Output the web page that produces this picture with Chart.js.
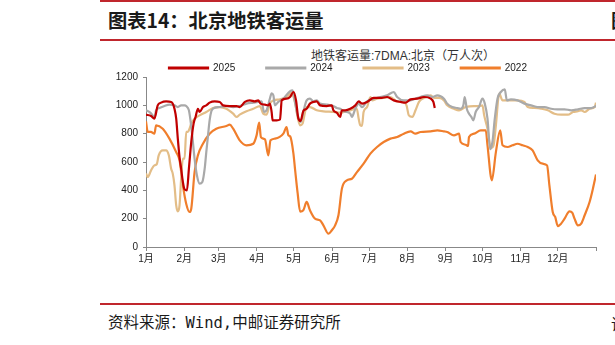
<!DOCTYPE html>
<html>
<head>
<meta charset="utf-8">
<script src="https://cdn.jsdelivr.net/npm/chart.js@4.4.1/dist/chart.umd.min.js"></script>
<style>
html,body{margin:0;padding:0;background:#fff;}
body{width:615px;height:345px;overflow:hidden;position:relative;font-family:"Liberation Sans","Noto Sans CJK SC",sans-serif;}
.rule{position:absolute;left:100px;right:0;height:1.5px;background:#C0262D;}
#heading{position:absolute;left:108px;top:8px;font:bold 19.3px "Noto Sans CJK SC",sans-serif;color:#1a1a1a;line-height:24px;white-space:nowrap;}
#subtitle{position:absolute;left:311px;top:48px;font:12px "Liberation Sans","Noto Sans CJK SC",sans-serif;color:#333;line-height:16px;white-space:nowrap;}
#source{position:absolute;left:108px;top:312px;font:15.5px "DejaVu Sans Mono","Noto Sans CJK SC",monospace;color:#1a1a1a;line-height:22px;white-space:nowrap;}
.edge{position:absolute;left:611px;color:#1a1a1a;white-space:nowrap;}
#wrap{position:absolute;left:100px;top:32px;width:500px;height:236px;}
</style>
</head>
<body>
<div class="rule" style="top:0px"></div>
<div id="heading">图表14：北京地铁客运量</div>
<div class="edge" style="top:8px;font:bold 19px 'Noto Sans CJK SC';line-height:24px">图</div>
<div class="rule" style="top:39px"></div>
<div id="subtitle">地铁客运量:7DMA:北京（万人次）</div>
<div id="wrap"><canvas id="c" width="500" height="236"></canvas></div>
<div class="rule" style="top:303px"></div>
<div id="source">资料来源：Wind,中邮证券研究所</div>
<div class="edge" style="top:312px;font:15.5px 'Noto Sans CJK SC';line-height:22px">请</div>
<script>
// tick labels / categories
const monthDays = [0,31,59,90,120,151,181,212,243,273,304,334,365];
const monthLabels = ['1月','2月','3月','4月','5月','6月','7月','8月','9月','10月','11月','12月',''];
const seriesNames = ['2025','2024','2023','2022'];

// 2025
const days2025 = [0,4.1,6.8,9.5,12.2,16.3,20.4,21.7,23.1,24.5,25.8,27.2,28.5,29.9,31.3,33.2,34.8,36.7,38.6,40.2,42.1,43.5,46.2,48.9,51.6,55.7,59.8,62.5,67.9,73.4,76,80.2,84.2,88.3,91,92.9,96.5,99.2,100.5,101.9,102.7,106,108.7,110.1,114.1,116.8,119.6,121.7,123.5,125.4,127.6,130.3,133,135.8,138.5,141.2,146.6,150.7,152,154.8,157.5,158.9,161.6,165.7,169.8,172.5,175.2,179.3,184.7,190.1,195.6,201,206.4,210.5,214.6,220,225.5,231,233.1,234.2];
const vals2025 = [934,925,906,1000,1019,1028,1024,1012,976,906,765,635,553,459,407,400,553,741,871,918,976,953,988,1000,1019,1028,1024,1000,995,995,988,1024,1035,1028,1035,1012,1005,1000,1012,953,894,894,900,1035,1047,1059,1094,1035,910,890,960,976,1012,1024,1028,1000,995,1000,965,948,918,965,965,976,1000,1028,1012,1024,1052,1052,1059,1035,1024,1019,1042,1047,1059,1047,1024,981];

// 2024
const days2024 = [0,2.7,5.4,6.8,8.2,10.9,15,19,23.1,25.8,28.5,31.3,32.6,34.8,35.9,37.5,39.4,41.3,43.5,45.7,47.6,48.9,50.3,51.6,53,54.3,59.8,65.2,70.7,76,81.5,87,91,93.8,95.7,97.8,100.5,101.9,103.3,104.6,107.3,111.4,116.7,118.9,120.8,122.7,125.4,127.6,130.3,133,135.8,138.5,141.2,146.6,152,154.8,157.5,160.3,163,165.7,167,169.8,172.5,175.2,179.3,184.7,190.1,195.6,201,203.7,209.1,214.6,218.6,222.7,228.2,232.3,236.3,241.7,244.3,248.4,252.5,255.2,257.4,258.5,260.2,262,263.9,265.5,267.4,270.1,272.9,274.8,277,279.1,281,282.9,285.1,287.8,291,292.7,296,301.4,306.9,312.3,317.7,323.2,328.6,334,339.5,344.9,350.4,355.8,361.2,366];
const vals2024 = [965,953,929,910,965,981,995,1005,1000,988,1000,1000,995,965,906,788,624,506,447,459,553,670,788,894,958,976,988,995,988,995,1012,1019,1024,1028,953,965,1047,1085,1071,1000,1024,1047,1099,1106,1024,941,882,953,1035,1047,1028,1035,1012,1005,995,981,976,958,953,941,918,976,1012,988,1028,1047,1059,1071,1094,1059,1035,1035,1047,1059,1071,1059,1071,1047,1012,988,981,976,1000,1059,976,941,918,894,953,988,1047,1012,906,690,741,906,1047,1094,1113,1035,1042,1035,1012,1000,988,988,976,972,972,965,972,981,981,1000];

// 2023
const days2023 = [0,1.4,4.1,6.8,8.7,10.3,13.6,16.3,18.5,20.4,21.7,23.1,24.5,25.8,27.2,28.5,29.9,31.3,32.6,34,35.3,36.7,39.4,43.5,48.9,54.3,59.8,65.2,70.7,73.4,76,81.5,87,92.4,95.1,97.8,100.5,103.3,108.7,114.1,117.5,120.8,122.7,125,127,129,130.3,133,138.5,143.9,152,157.5,163,168.4,171,172.5,173.8,175.2,176.5,179.3,182,183.4,187.4,192.8,198.3,203.7,209.1,211.3,213.2,216,218.6,221.4,225.5,231,233.6,237.7,241.7,244.3,249.8,253.9,259.3,266.1,270.2,272.9,274.3,277,279.7,281.9,283.8,286.5,289.2,293.3,301.4,306.9,309.6,315,320.5,325.9,331.3,336.8,342.2,346.3,350.4,353.1,355.8,359.9,364,365];
const vals2023 = [518,494,541,576,584,647,682,682,647,553,518,435,294,252,294,482,624,624,812,812,835,871,906,929,953,981,988,976,941,918,934,958,976,995,941,934,1012,1035,1042,1059,1086,1024,929,859,871,953,988,988,965,958,953,948,958,972,976,906,859,855,953,988,1059,1035,1047,1052,1059,1028,1024,1000,929,918,965,1024,1052,1071,1052,1052,1035,1000,976,965,988,995,995,1000,929,835,700,718,859,1082,1035,1035,1035,1024,988,981,976,965,941,934,934,953,958,965,953,976,988,1019];

// 2022
const days2022 = [0,1.4,4,6.8,8.2,13.6,19,24.5,27.2,29.9,32.6,35.3,36.7,39.4,42.1,46.2,51.6,57,65.2,67.9,70.7,76,81.5,87,89.7,91.8,93.2,96.5,99.2,101,104.6,111.4,114,115.5,117,119.5,121,123,125,127.6,130.3,133,137.1,141.2,143.9,148,150.7,153.4,156.1,158.9,162.9,167,171.1,176.5,182,187.4,192.8,198.3,203.7,209.1,214.6,218.6,222.7,230.9,236.3,241.7,244.3,249.8,253.9,255.2,259.3,261.2,262,266.1,271.5,275.6,277,280.5,283.8,287.3,289.2,293.3,297.3,301.4,305.5,309.6,313.6,317.7,321.8,325.3,327.2,329.9,331.9,334,336.7,339.5,343.5,345.7,347.6,350.3,353,355.8,359.8,362.5,365];
const vals2022 = [887,812,812,800,859,835,765,670,612,435,306,247,270,529,647,729,800,835,854,864,835,753,718,729,788,878,776,760,647,753,765,800,847,788,780,665,540,380,250,259,318,259,200,188,153,94,118,153,224,412,470,482,529,588,659,706,741,765,776,800,816,800,812,816,823,816,812,788,800,741,722,713,776,800,823,823,718,471,670,823,718,706,718,729,718,706,682,612,588,576,435,247,212,148,165,200,252,243,200,153,165,224,318,412,511];

const colors = ['#C00000','#A9A9A9','#E3BD87','#F07E2C'];
const allDays = [days2025, days2024, days2023, days2022];
const allVals = [vals2025, vals2024, vals2023, vals2022];

const datasets = seriesNames.map((name, i) => ({
  label: name,
  data: allDays[i].map((d, j) => ({x: d, y: allVals[i][j]})),
  borderColor: colors[i],
  backgroundColor: colors[i],
  borderWidth: 2.2,
  pointRadius: 0,
  cubicInterpolationMode: 'monotone',
  fill: false
}));

new Chart(document.getElementById('c'), {
  type: 'line',
  data: {datasets},
  options: {
    responsive: false,
    animation: false,
    events: [],
    layout: {padding: {left: 0, right: 4, top: 0, bottom: 0}},
    plugins: {
      title: {display: false},
      tooltip: {enabled: false},
      legend: {
        display: true,
        position: 'top',
        maxHeight: 45,
        labels: {
          boxWidth: 39,
          boxHeight: 1,
          padding: 31,
          color: '#222',
          font: {family: '"Liberation Sans", Arial, sans-serif', size: 10}
        }
      }
    },
    scales: {
      x: {
        type: 'linear',
        min: 0,
        max: 365,
        afterBuildTicks: (axis) => { axis.ticks = monthDays.map(v => ({value: v})); },
        afterFit: (axis) => { axis.height = 21; },
        grid: {display: true, drawOnChartArea: false, drawTicks: true, tickLength: 4, color: '#888'},
        border: {display: true, color: '#888', width: 1},
        ticks: {
          autoSkip: false,
          maxRotation: 0,
          padding: 2,
          color: '#222',
          font: {family: '"Liberation Sans", "Noto Sans CJK SC", sans-serif', size: 10},
          callback: (value) => { const k = monthDays.indexOf(value); return k >= 0 ? monthLabels[k] : ''; }
        }
      },
      y: {
        min: 0,
        max: 1200,
        afterFit: (axis) => { axis.width = 46; },
        grid: {display: true, drawOnChartArea: false, drawTicks: true, tickLength: 3, color: '#888'},
        border: {display: true, color: '#888', width: 1},
        ticks: {
          stepSize: 200,
          padding: 5,
          color: '#222',
          font: {family: '"Liberation Sans", Arial, sans-serif', size: 10},
          callback: (value) => String(value)
        }
      }
    }
  }
});
</script>
</body>
</html>
